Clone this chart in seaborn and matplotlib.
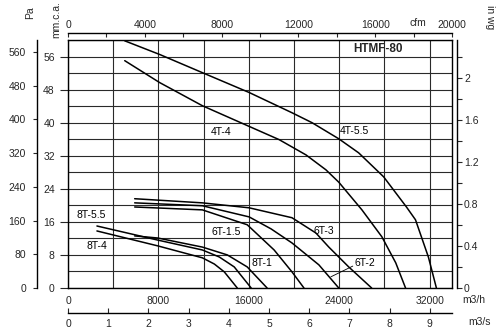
import matplotlib
matplotlib.use("Agg")
import matplotlib.pyplot as plt
import numpy as np
import pandas as pd
import seaborn as sns
from matplotlib.ticker import FixedLocator, MultipleLocator, FuncFormatter

# ---------------- data (flow in m3/h, pressure in mm.c.a.) ----------------
q_4t55 = [5020, 8110, 11890, 16030, 19820, 21590, 23960, 25720, 27930, 29950, 30750, 31890, 32600]
p_4t55 = [59.8, 56.5, 52.1, 47.3, 42.4, 40.0, 36.1, 32.7, 26.9, 19.6, 16.5, 7.5, 0.0]

q_4t4 = [5020, 8110, 11890, 15860, 18680, 21060, 22820, 23960, 26010, 27770, 29000, 29870]
p_4t4 = [55.0, 49.7, 44.1, 39.3, 35.9, 32.2, 28.6, 25.6, 18.9, 12.4, 6.1, 0.0]

q_6t3 = [5900, 11890, 16030, 19820, 21940, 23080, 24840, 26870]
p_6t3 = [21.6, 20.6, 19.4, 17.0, 13.3, 9.9, 5.1, 0.0]

q_6t2 = [5900, 11890, 16030, 17970, 19820, 22200, 23960]
p_6t2 = [20.6, 19.9, 17.2, 14.3, 10.9, 5.6, 0.0]

q_6t15 = [5900, 11890, 15860, 18240, 19820, 20880]
p_6t15 = [19.6, 18.9, 15.3, 9.2, 3.9, 0.0]

q_8t55 = [2560, 7930, 11890, 13390, 14710, 16210]
p_8t55 = [15.0, 11.6, 9.2, 7.5, 5.1, 0.0]

q_8t4 = [2560, 7930, 11890, 12950, 13830, 14980]
p_8t4 = [13.8, 10.2, 7.3, 5.8, 3.9, 0.0]

q_8t1 = [5900, 7930, 11890, 14100, 15860, 17620]
p_8t1 = [12.6, 12.1, 9.9, 8.0, 5.1, 0.0]

curve_names = ["4T-5.5", "4T-4", "6T-3", "6T-2", "6T-1.5", "8T-5.5", "8T-4", "8T-1"]
curve_q = [q_4t55, q_4t4, q_6t3, q_6t2, q_6t15, q_8t55, q_8t4, q_8t1]
curve_p = [p_4t55, p_4t4, p_6t3, p_6t2, p_6t15, p_8t55, p_8t4, p_8t1]

# label anchor positions (m3/h, mm)
label_text = ["4T-4", "4T-5.5", "8T-5.5", "8T-4", "6T-1.5", "8T-1", "6T-3", "6T-2"]
label_q = [13570, 25370, 2030, 2560, 14010, 17180, 22640, 26250]
label_p = [37.8, 38.1, 17.7, 10.2, 13.6, 6.1, 13.8, 6.1]

title = "HTMF-80"

m3h_ticks = [0, 8000, 16000, 24000, 32000]
mm_ticks = [0, 8, 16, 24, 32, 40, 48, 56]
pa_ticks = [0, 80, 160, 240, 320, 400, 480, 560]
cfm_ticks = [0, 4000, 8000, 12000, 16000, 20000]
inwg_ticks = [0, 0.4, 0.8, 1.2, 1.6, 2.0]
m3s_ticks = [0, 1, 2, 3, 4, 5, 6, 7, 8, 9]

frames = []
for name, q, p in zip(curve_names, curve_q, curve_p):
    frames.append(pd.DataFrame({"curve": name, "q": q, "mm": p}))
df = pd.concat(frames, ignore_index=True)

# ---------------- style ----------------
sns.set_style("white")
plt.rcParams["font.family"] = ["Liberation Sans", "DejaVu Sans"]
FS = 7.5
GRID = "#2a2a2a"

W, H = 500, 333
fig = plt.figure(figsize=(W / 100, H / 100), dpi=100)
ax = fig.add_axes([68 / W, 45 / H, 384 / W, 248 / H])

XMAX = 33980
YMAX = 60

sns.lineplot(data=df, x="q", y="mm", units="curve", estimator=None,
             color="black", lw=1.1, ax=ax, legend=False)

ax.set_xlim(0, XMAX)
ax.set_ylim(0, YMAX)
ax.set_xlabel("")
ax.set_ylabel("")
ax.xaxis.set_major_locator(FixedLocator(m3h_ticks))
ax.xaxis.set_minor_locator(MultipleLocator(4000))
ax.yaxis.set_major_locator(FixedLocator(mm_ticks))
ax.yaxis.set_minor_locator(MultipleLocator(4))
ax.xaxis.set_major_formatter(FuncFormatter(lambda v, p: f"{int(v)}"))
ax.grid(which="both", color=GRID, lw=0.8)
ax.set_axisbelow(True)
ax.tick_params(axis="x", which="both", length=0, pad=6, labelsize=FS)
ax.tick_params(axis="y", which="major", length=5.5, width=0.8, direction="out",
               pad=4, labelsize=FS, left=True)
ax.tick_params(axis="y", which="minor", length=0)
for s in ax.spines.values():
    s.set_visible(True)
    s.set_color("black")
    s.set_linewidth(1.0)

# Pa axis (far left)
axpa = ax.twinx()
axpa.set_ylim(0, YMAX * 9.81)
axpa.yaxis.tick_left()
axpa.yaxis.set_major_locator(FixedLocator(pa_ticks))
axpa.spines["left"].set_position(("outward", 22.3))
for k in ["right", "top", "bottom"]:
    axpa.spines[k].set_visible(False)
axpa.spines["left"].set_visible(True)
axpa.spines["left"].set_color("black")
axpa.spines["left"].set_linewidth(1.0)
axpa.tick_params(axis="y", length=3, width=0.8, direction="out", pad=5, labelsize=FS)
axpa.grid(False)

# in wg axis (right)
axw = ax.twinx()
axw.set_ylim(0, YMAX / 25.4)
axw.yaxis.set_major_locator(FixedLocator(inwg_ticks))
axw.yaxis.set_minor_locator(MultipleLocator(0.2))
axw.yaxis.set_major_formatter(FuncFormatter(lambda v, p: f"{v:g}"))
axw.spines["right"].set_position(("outward", 3.6))
for k in ["left", "top", "bottom"]:
    axw.spines[k].set_visible(False)
axw.spines["right"].set_visible(True)
axw.spines["right"].set_color("black")
axw.spines["right"].set_linewidth(1.0)
axw.tick_params(axis="y", which="both", length=3.6, width=0.8, direction="out",
                pad=1.5, labelsize=FS, right=True)
axw.grid(False)

# cfm axis (top)
axc = ax.twiny()
axc.set_xlim(0, 20000)
axc.xaxis.set_major_locator(FixedLocator(cfm_ticks))
axc.xaxis.set_minor_locator(MultipleLocator(2000))
axc.xaxis.set_major_formatter(FuncFormatter(lambda v, p: f"{int(v)}"))
axc.spines["top"].set_position(("outward", 5))
for k in ["left", "right", "bottom"]:
    axc.spines[k].set_visible(False)
axc.spines["top"].set_visible(True)
axc.spines["top"].set_color("black")
axc.spines["top"].set_linewidth(1.0)
axc.tick_params(axis="x", which="both", length=3, width=0.8, direction="in",
                pad=2.5, labelsize=FS, top=True)
axc.grid(False)

# m3/s axis (bottom)
axs = ax.twiny()
axs.set_xlim(0, 9.55)
axs.xaxis.tick_bottom()
axs.xaxis.set_major_locator(FixedLocator(m3s_ticks))
axs.spines["bottom"].set_position(("outward", 18))
for k in ["left", "right", "top"]:
    axs.spines[k].set_visible(False)
axs.spines["bottom"].set_visible(True)
axs.spines["bottom"].set_color("black")
axs.spines["bottom"].set_linewidth(1.0)
axs.tick_params(axis="x", length=3.5, width=0.8, direction="in", pad=4,
                labelsize=FS, bottom=True)
axs.grid(False)

# curve labels
for t, q, p in zip(label_text, label_q, label_p):
    ax.text(q, p, t, fontsize=FS, ha="center", va="center", color="black")
ax.plot([23260, 25200], [2.7, 5.3], color="black", lw=0.6)
ax.text(27400, 57.9, title, fontsize=8.5, fontweight="bold", ha="center", va="center")

# unit labels
def ft(x, y, s, rot=0, **kw):
    fig.text(x / W, 1 - y / H, s, rotation=rot, ha="center", va="center", fontsize=FS, **kw)

ft(30, 13, "Pa", 90)
ft(56, 20, "mm.c.a.", 90)
ft(418, 23, "cfm")
ft(490, 17, "in wg", -90)
ft(474, 300, "m3/h")
ft(480, 322, "m3/s")

fig.savefig("out.png", dpi=100)
